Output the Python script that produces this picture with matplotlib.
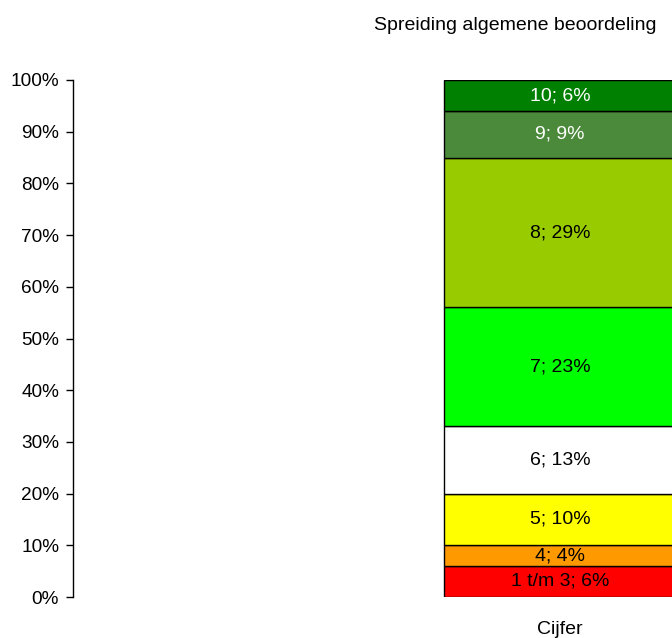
import matplotlib
matplotlib.use("Agg")
import matplotlib.pyplot as plt
from matplotlib.ticker import PercentFormatter

plt.rcParams["font.family"] = ["Liberation Sans", "DejaVu Sans"]

# data
category = ["Cijfer"]
labels = ["1 t/m 3", "4", "5", "6", "7", "8", "9", "10"]
shares = [6, 4, 10, 13, 23, 29, 9, 6]
colors = ["#ff0000", "#ff9900", "#ffff00", "#ffffff", "#00ff00", "#99cc00", "#4b8a3b", "#008000"]
text_colors = ["black", "black", "black", "black", "black", "black", "white", "white"]

fig = plt.figure(figsize=(6.72, 6.38), dpi=100)
ax = fig.add_axes([73 / 672, 41 / 638, (672 - 73) / 672, 517 / 638])

bottom = 0
for lab, val, col, tc in zip(labels, shares, colors, text_colors):
    ax.bar(0, val, bottom=bottom, width=1.0, color=col, edgecolor="black", linewidth=1)
    ax.text(0, bottom + val / 2, f"{lab}; {val}%", ha="center", va="center",
            fontsize=14, color=tc)
    bottom += val

ax.set_xlim(-2.099, 0.483)
ax.set_ylim(0, 100)
ax.set_yticks(range(0, 101, 10))
ax.yaxis.set_major_formatter(PercentFormatter(decimals=0))
ax.set_xticks([0])
ax.set_xticklabels(category)
ax.tick_params(axis="x", length=0, pad=17, labelsize=14)
ax.tick_params(axis="y", length=5, width=1, pad=5, labelsize=13.7, direction="out")

for s in ["top", "right", "bottom"]:
    ax.spines[s].set_visible(False)
ax.spines["left"].set_linewidth(1)

fig.text(515 / 672, 1 - 25 / 638, "Spreiding algemene beoordeling", ha="center",
         va="center", fontsize=14)

fig.savefig("out.png", dpi=100)
